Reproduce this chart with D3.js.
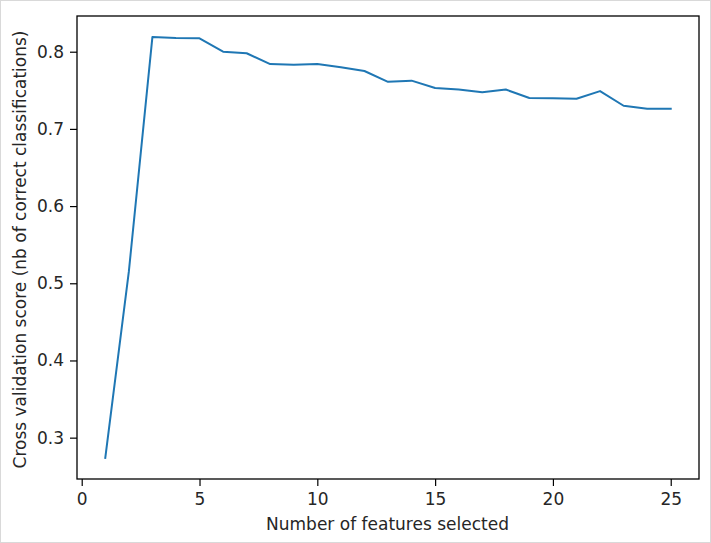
<!DOCTYPE html>
<html>
<head>
<meta charset="utf-8">
<script src="https://cdn.jsdelivr.net/npm/d3@7"></script>
<style>
  html, body { margin: 0; padding: 0; background: #fff; }
  svg { display: block; }
  text { font-family: "DejaVu Sans", sans-serif; fill: #262626; }
</style>
</head>
<body>
<svg id="chart" width="711" height="543"></svg>
<script>
const featureCounts = [1,2,3,4,5,6,7,8,9,10,11,12,13,14,15,16,17,18,19,20,21,22,23,24,25];
const cvScores = [0.2737,0.515,0.819,0.8177,0.8173,0.800,0.798,0.784,0.783,0.784,0.780,0.775,0.761,0.7625,0.753,0.751,0.7475,0.751,0.740,0.7397,0.739,0.749,0.730,0.7262,0.7262];
const xTicks = [0,5,10,15,20,25];
const yTicks = [0.3,0.4,0.5,0.6,0.7,0.8];
const xLabel = "Number of features selected";
const yLabel = "Cross validation score (nb of correct classifications)";

const W = 711, H = 543;
const m = {left: 77, right: 12, top: 16, bottom: 64};
const FS = 17;
const svg = d3.select("#chart");

svg.append("rect").attr("x",0.5).attr("y",0.5).attr("width",W-1).attr("height",H-1)
  .attr("fill","#fff").attr("stroke","#d9d9d9").attr("stroke-width",1);

const xMin = d3.min(featureCounts), xMax = d3.max(featureCounts);
const yMin = d3.min(cvScores), yMax = d3.max(cvScores);
const xPad = (xMax - xMin) * 0.05, yPad = (yMax - yMin) * 0.05;

const x = d3.scaleLinear().domain([xMin - xPad, xMax + xPad]).range([m.left, W - m.right]);
const y = d3.scaleLinear().domain([yMin - yPad, yMax + yPad]).range([H - m.bottom, m.top]);

const gx = svg.append("g").attr("transform", `translate(0,${H - m.bottom})`)
  .call(d3.axisBottom(x).tickValues(xTicks).tickFormat(d3.format("d")).tickSize(7).tickPadding(7));
const gy = svg.append("g").attr("transform", `translate(${m.left},0)`)
  .call(d3.axisLeft(y).tickValues(yTicks).tickFormat(d3.format(".1f")).tickSize(7).tickPadding(6));
[gx, gy].forEach(g => {
  g.select(".domain").remove();
  g.selectAll("line").attr("stroke", "#000").attr("stroke-width", 1.2);
  g.selectAll("text").attr("font-size", FS).attr("fill", "#262626")
    .style("font-family", '"DejaVu Sans", sans-serif');
});

const line = d3.line().x((d,i) => x(featureCounts[i])).y(d => y(d));
svg.append("path").datum(cvScores).attr("d", line)
  .attr("fill", "none").attr("stroke", "#1f77b4").attr("stroke-width", 2)
  .attr("stroke-linejoin", "round").attr("stroke-linecap", "square");

svg.append("rect").attr("x", m.left).attr("y", m.top)
  .attr("width", W - m.right - m.left).attr("height", H - m.bottom - m.top)
  .attr("fill", "none").attr("stroke", "#000").attr("stroke-width", 1.3);

svg.append("text").attr("x", 387.5).attr("y", 530)
  .attr("text-anchor", "middle").attr("font-size", FS).text(xLabel);
svg.append("text").attr("transform", `translate(26,${(m.top + H - m.bottom) / 2 + 2}) rotate(-90)`)
  .attr("text-anchor", "middle").attr("font-size", FS).text(yLabel);
</script>
</body>
</html>
